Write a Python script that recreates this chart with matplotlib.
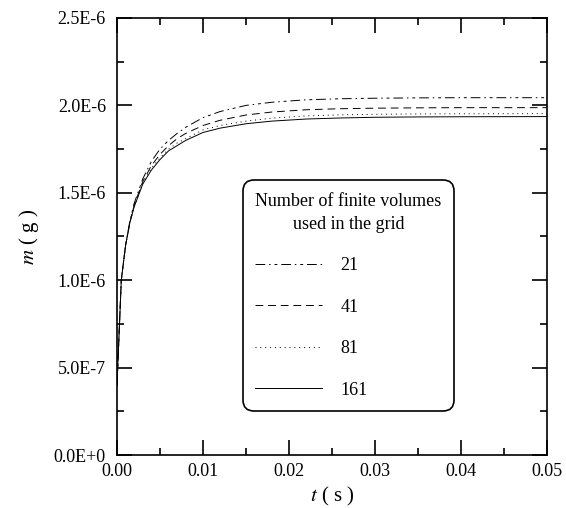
# Mass m(t) for four grid resolutions (number of finite volumes).

import matplotlib.pyplot as plt
from matplotlib.ticker import MultipleLocator

plt.rcParams["font.family"] = "Liberation Serif"
plt.rcParams["mathtext.fontset"] = "stix"

# (t in s, m in 1E-6 g).
t = [0.0, 0.0005, 0.001, 0.0015, 0.002, 0.003, 0.004, 0.005, 0.006, 0.007,
     0.008, 0.010, 0.012, 0.015, 0.018, 0.022, 0.026, 0.030, 0.035, 0.040, 0.050]
m_21 = [0.40, 1.00, 1.20, 1.34, 1.44, 1.58, 1.68, 1.75, 1.80, 1.84,
        1.875, 1.93, 1.965, 2.00, 2.018, 2.032, 2.038, 2.041, 2.043, 2.044, 2.044]
m_41 = [0.40, 1.00, 1.20, 1.33, 1.43, 1.565, 1.655, 1.72, 1.77, 1.81,
        1.84, 1.885, 1.915, 1.945, 1.962, 1.975, 1.981, 1.984, 1.986, 1.987, 1.987]
m_81 = [0.40, 1.00, 1.20, 1.33, 1.42, 1.555, 1.64, 1.70, 1.75, 1.785,
        1.81, 1.86, 1.885, 1.91, 1.927, 1.94, 1.946, 1.949, 1.951, 1.952, 1.953]
m_161 = [0.40, 1.00, 1.20, 1.33, 1.42, 1.55, 1.63, 1.69, 1.74, 1.77,
         1.80, 1.845, 1.87, 1.895, 1.91, 1.922, 1.928, 1.932, 1.934, 1.935, 1.936]

grid_labels = ["21", "41", "81", "161"]
y_ticks = [0.0, 0.5e-6, 1.0e-6, 1.5e-6, 2.0e-6, 2.5e-6]
y_tick_labels = ["0.0E+0", "5.0E-7", "1.0E-6", "1.5E-6", "2.0E-6", "2.5E-6"]
x_ticks = [0.0, 0.01, 0.02, 0.03, 0.04, 0.05]
x_tick_labels = ["0.00", "0.01", "0.02", "0.03", "0.04", "0.05"]


def main() -> None:
    fig = plt.figure(figsize=(5.66, 5.08), dpi=100)
    ax = fig.add_axes([0.2067, 0.1043, 0.7597, 0.8603])

    styles = [
        (0, (10, 4, 1.5, 4, 3, 4)),
        (0, (8, 5)),
        (0, (1, 4)),
        "-",
    ]
    series = [m_21, m_41, m_81, m_161]
    for values, style, label in zip(series, styles, grid_labels):
        ax.plot(t, [v * 1e-6 for v in values], color="black", linewidth=0.7,
                linestyle=style, label=label)

    ax.set_xlim(0, 0.05)
    ax.set_ylim(0, 2.5e-6)
    ax.set_xticks(x_ticks, labels=x_tick_labels)
    ax.set_yticks(y_ticks, labels=y_tick_labels)
    ax.xaxis.set_minor_locator(MultipleLocator(0.005))
    ax.yaxis.set_minor_locator(MultipleLocator(0.25e-6))
    ax.tick_params(which="both", direction="in", top=True, right=True,
                   labelsize=13, width=1.2)
    ax.tick_params(which="major", length=11)
    ax.tick_params(which="minor", length=5)
    ax.tick_params(axis="y", pad=8)
    ax.tick_params(axis="x", pad=6)
    for spine in ax.spines.values():
        spine.set_linewidth(1.2)

    ax.set_xlabel("$t$ ( s )", fontsize=15, labelpad=3)
    ax.set_ylabel("$m$ ( g )", fontsize=15, labelpad=9)

    leg = ax.legend(
        title="Number of finite volumes\nused in the grid",
        loc="lower left",
        bbox_to_anchor=(0.284, 0.092),
        fontsize=13,
        title_fontsize=13,
        handlelength=3.7,
        handletextpad=1.0,
        labelspacing=1.35,
        borderpad=0.4,
        fancybox=True,
        framealpha=1,
        edgecolor="black",
    )
    leg.get_frame().set_linewidth(1.2)
    leg.get_frame().set_boxstyle("round", pad=0.3, rounding_size=0.6)
    leg._legend_box.align = "left"
    leg.get_title().set_ha("center")
    leg.get_title().set_linespacing(1.5)

    fig.savefig("out.png", dpi=100)


if __name__ == "__main__":
    main()
